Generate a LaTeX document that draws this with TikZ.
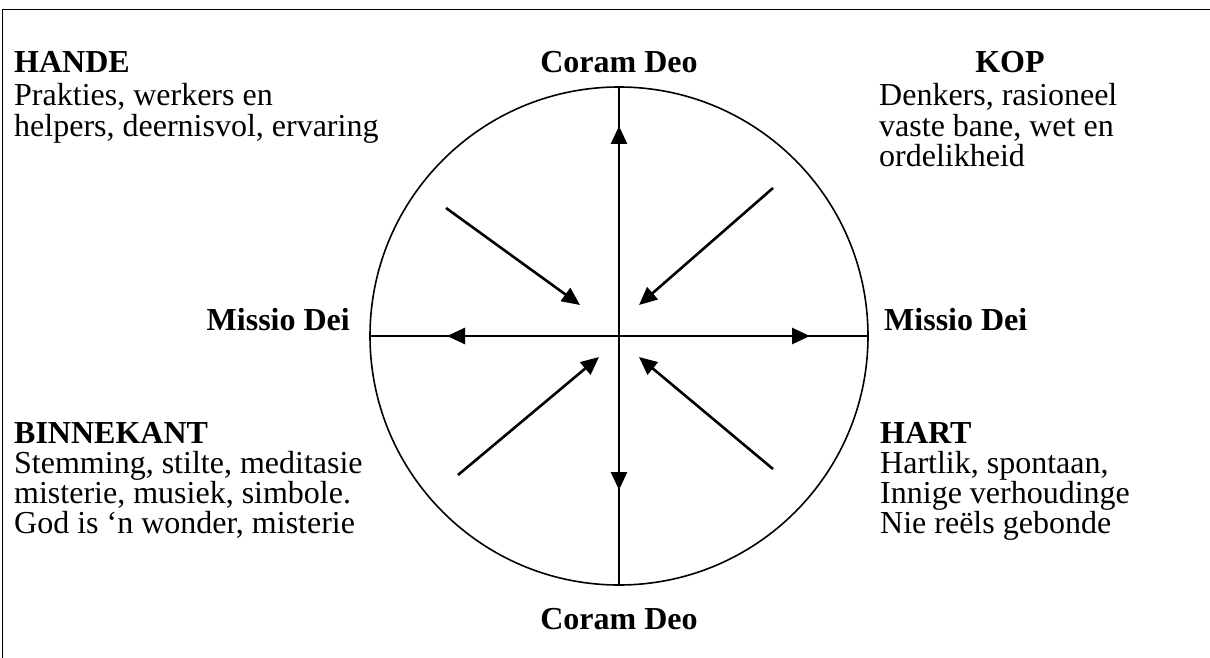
\documentclass[tikz,border=0pt]{standalone}
\usepackage{fontspec}
\setmainfont{Liberation Serif}
\usetikzlibrary{arrows.meta, positioning}

\begin{document}
\begin{tikzpicture}[x=1pt, y=-1pt,
        head/.style={font=\fontsize{32}{32}\selectfont\bfseries, inner sep=0pt},
        topblock/.style={font=\fontsize{32}{31}\selectfont, align=left,
                    inner sep=0pt, anchor=base west},
        lowblock/.style={font=\fontsize{32}{30}\selectfont, align=left,
                    inner sep=0pt, anchor=base west},
        axis/.style={line width=1.4pt},
        arr/.style={-{Triangle[length=18pt, width=16pt]}, line width=2.6pt}]
        \useasboundingbox (0,0) rectangle (1210,658);
        % frame
        \draw[line width=1.7pt] (2.5,658) -- (2.5,9.5) -- (1210,9.5);
        % wheel
        \node[circle, draw, line width=1.6pt, minimum size=498pt,
              inner sep=0pt] (wheel) at (619,336) {};
        \draw[axis] (wheel.north) -- (wheel.south);
        \draw[axis] (wheel.west) -- (wheel.east);
        % labels
        \node[head, anchor=base] (deoTop) at (619,73) {Coram Deo};
        \node[head, anchor=base] (deoBot) at (619,629) {Coram Deo};
        \node[head, anchor=base east] (deiL) at (350,330) {Missio Dei};
        \node[head, anchor=base west] (deiR) at (884,330) {Missio Dei};
        \node[head, anchor=base west] (hande) at (14,73) {HANDE};
        \node[topblock] (handeText) at (14,136)
              {Prakties, werkers en\\helpers, deernisvol, ervaring};
        \node[head, anchor=base] (kop) at (1010,73) {KOP};
        \node[topblock] (kopText) at (879,167)
              {Denkers, rasioneel\\vaste bane, wet en\\ordelikheid};
        \node[head, anchor=base west] (binne) at (14,443) {BINNEKANT};
        \node[lowblock] (binneText) at (14,533)
              {Stemming, stilte, meditasie\\misterie, musiek, simbole.\\God is ‘n wonder, misterie};
        \node[head, anchor=base west] (hart) at (880,443) {HART};
        \node[lowblock] (hartText) at (880,533)
              {Hartlik, spontaan,\\Innige verhoudinge\\Nie reëls gebonde};
        % arrows
        \coordinate (upFrom) at (619,221);   \coordinate (upTo) at (619,126);
        \coordinate (dnFrom) at (619,396);   \coordinate (dnTo) at (619,490);
        \coordinate (ltFrom) at (523,336);   \coordinate (ltTo) at (447,336);
        \coordinate (rtFrom) at (695,336);   \coordinate (rtTo) at (810,336);
        \coordinate (ulFrom) at (446,208);   \coordinate (ulTo) at (580,305);
        \coordinate (urFrom) at (773,188);   \coordinate (urTo) at (639,305);
        \coordinate (llFrom) at (458,475);   \coordinate (llTo) at (599,357);
        \coordinate (lrFrom) at (773,469);   \coordinate (lrTo) at (639,357);
        \foreach \a in {up, dn, lt, rt, ul, ur, ll, lr}
          \draw[arr] (\a From) -- (\a To);
      \end{tikzpicture}
\end{document}
